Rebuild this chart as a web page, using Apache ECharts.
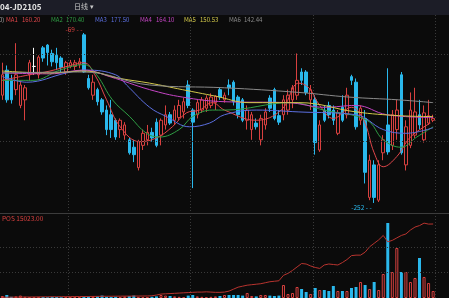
<!DOCTYPE html>
<html><head><meta charset="utf-8">
<script src="https://cdn.jsdelivr.net/npm/echarts@6/dist/echarts.min.js"></script>
<style>html,body{margin:0;padding:0;background:#0b0b0b;}#c{width:449px;height:298px;}</style>
</head><body><div id="c"></div>
<script>
// [open, close, lowest, highest]
const candles = [
[-136,-114,-141,-101],[-109,-141,-144,-104],[-120,-141,-145,-114],[-130,-114,-136,-80],[-147,-125,-150,-120],
[-141,-128,-163,-125],[-114,-101,-120,-98],[-105,-105,-114,-85],[-114,-95,-118,-93],[-85,-96,-100,-83],
[-82,-90,-104,-81],[-91,-100,-105,-87],[-93,-101,-109,-85],[-96,-106,-111,-94],[-111,-101,-114,-99],
[-105,-101,-107,-98],[-105,-101,-109,-98],[-103,-100,-107,-96],[-71,-111,-112,-69],[-118,-128,-130,-114],
[-136,-122,-141,-114],[-130,-143,-147,-128],[-141,-154,-157,-139],[-152,-173,-179,-147],[-157,-173,-182,-141],
[-163,-181,-184,-161],[-173,-163,-182,-161],[-179,-168,-184,-165],[-184,-198,-200,-182],[-192,-200,-208,-184],
[-214,-186,-217,-184],[-190,-177,-195,-173],[-184,-176,-190,-168],[-176,-182,-186,-171],[-165,-190,-192,-161],
[-179,-163,-190,-161],[-168,-157,-173,-147],[-157,-166,-168,-154],[-163,-152,-168,-147],[-160,-147,-163,-141],
[-154,-143,-161,-139],[-125,-147,-150,-120],[-152,-165,-236,-150],[-157,-144,-161,-141],[-152,-141,-155,-138],
[-150,-139,-154,-136],[-147,-138,-150,-134],[-144,-137,-152,-136],[-130,-138,-141,-128],[-141,-136,-144,-133],
[-125,-128,-136,-119],[-122,-143,-147,-120],[-138,-157,-161,-136],[-141,-163,-165,-139],[-163,-152,-173,-147],
[-173,-157,-184,-154],[-166,-170,-173,-161],[-184,-161,-190,-157],[-168,-154,-173,-150],[-139,-150,-154,-136],
[-130,-161,-163,-128],[-158,-165,-168,-152],[-157,-141,-163,-136],[-152,-136,-157,-130],[-141,-128,-150,-125],
[-136,-120,-141,-91],[-111,-120,-125,-107],[-111,-133,-136,-109],[-141,-130,-152,-125],[-141,-187,-200,-136],
[-195,-168,-197,-163],[-152,-163,-165,-147],[-147,-157,-161,-143],[-152,-163,-168,-147],[-177,-155,-179,-152],
[-149,-163,-165,-136],[-157,-136,-161,-128],[-116,-120,-125,-114],[-122,-170,-173,-118],[-163,-150,-168,-147],
[-161,-219,-231,-152],[-246,-206,-249,-200],[-211,-246,-252,-206],[-249,-211,-251,-206],[-198,-184,-206,-179],
[-168,-197,-200,-107],[-190,-157,-195,-152],[-173,-152,-184,-141],[-114,-198,-200,-111],[-211,-170,-217,-163],
[-190,-152,-193,-133],[-179,-154,-182,-128],[-157,-168,-173,-141],[-184,-155,-187,-147],[-166,-158,-168,-141],
[-163,-161,-165,-157]
];
const volumes = [
100,150,60,80,120,60,50,40,60,50, 40,60,50,40,60,50,40,50,60,80,
100,80,120,60,50,60,40,80,100,120, 60,50,40,60,80,150,120,100,80,60,
50,120,150,80,60,50,60,80,100,
150,150,150,150,120,250,100,80,150,150,120,100,120,650,200,250,550,450,300,200,
500,400,400,350,600,350,350,350,500,550,800,650,450,800,400,1200,3750,1300,2500,1300,
1300,800,1000,2000,1050,750,350
];
const positions = [
150,160,170,180,190,200,200,210,220,230, 240,250,250,260,270,280,290,300,300,310,
320,330,340,350,350,360,370,380,380,390, 400,400,410,
450,600,800,850,900,950,1000,1050,1100,1150,1200,1200,1250,1200,
1150,1150,1200,1400,1800,2200,2400,2600,2700,2800,2900,3100,3300,3400,3500,
4600,5000,5600,6300,7000,6900,6500,6200,6000,6700,6900,6800,6700,7200,7800,8600,8700,8700,
9300,10400,11100,11800,12700,11400,11700,12200,12700,13000,13800,14400,14700,15200,15000,15023
];
const ma1 = [[0,-120],[6,-114],[10.5,-110],[15,-104],[18,-101],[20.4,-114],[23,-141],[26,-170],[30.3,-186],[34,-182],[37.5,-170],[40.6,-155],[43.5,-152],[46.3,-144],[49,-152],[56,-163],[61.5,-152],[65.4,-123],[67.6,-128],[70,-147],[73,-161],[77,-149],[79.7,-163],[82,-198],[84,-213],[87,-202],[90,-181],[94.4,-166]];
const ma2 = [[0,-120],[6.8,-120],[12.7,-109],[18,-103],[20.8,-114],[24.3,-141],[28.1,-159],[31.8,-177],[34.7,-181],[39,-173],[42,-159],[46.3,-152],[49,-152],[63.7,-144],[70.9,-152],[80.4,-163],[84,-184],[87.9,-192],[91.4,-181],[95,-170]];
const ma3 = [[0,-116],[5.4,-122],[14.2,-112],[18.6,-109],[25,-114],[27.4,-125],[32.5,-149],[36.2,-159],[41.3,-170],[45.7,-166],[49,-157],[56,-152],[65.4,-154],[78,-157],[84,-173],[89,-177],[95,-171]];
const ma4 = [[0,-112],[10.5,-113],[18,-109],[23.7,-116],[32.5,-130],[39.7,-138],[49,-143],[63,-144],[71,-149],[78,-147],[84.8,-157],[95,-160]];
const ma5 = [[0,-110],[10.5,-112],[18,-110],[26,-118],[32.5,-123],[39.7,-130],[47,-137],[54.4,-144],[65.4,-144],[78,-154],[87.4,-158],[95,-159]];
const ma6 = [[0,-112],[18,-111],[32.5,-125],[49,-128],[65.4,-133],[76.4,-138],[87.4,-141],[95,-144]];
const maNames = ['MA1','MA2','MA3','MA4','MA5','MA6'];
const maValues = ['160.20','170.40','177.50','164.10','150.53','142.44'];
const maColors = ['#e0464a','#2f9e44','#5b6fe0','#c444c4','#d2c84a','#8a8a8a'];
const posLabel = 'POS 15023.00';
const categories = candles.map((_, i) => String(i + 1));

const UP = '#d8403f', DOWN = '#2ab8ec';
const FONT = '"Noto Sans CJK SC","Noto Sans",sans-serif';
const chart = echarts.init(document.getElementById('c'), null, {renderer:'canvas'});
const dot = {color:'#3a3a3a', type:[1,2], width:1};
const vGrid = [15, 42, 69, 96];
const maData = [ma1, ma2, ma3, ma4, ma5, ma6];
const legendX = [[6,22],[51,66],[95,111],[140,156],[184,200],[229,244]];

const graphic = [
  {type:'rect', left:0, top:0, shape:{width:449, height:15}, style:{fill:'#1c1d27'}, z:-1},
  {type:'text', left:0, top:3, style:{text:'04-JD2105', fill:'#e6e6e6', font:'bold 8px ' + FONT}},
  {type:'text', left:74, top:3, style:{text:'日线 ▾', fill:'#c8c8c8', font:'7px ' + FONT}},
  {type:'text', left:-1, top:17, style:{text:'0)', fill:'#aaaaaa', font:'6px ' + FONT}},
  {type:'text', left:2, top:215, style:{text:posLabel, fill:'#d8403f', font:'6.5px ' + FONT}},
  {type:'line', shape:{x1:0, y1:213.5, x2:449, y2:213.5}, style:{stroke:'#3c3c3c', lineWidth:1}}
];
maNames.forEach((n, k) => {
  graphic.push({type:'text', left:legendX[k][0], top:17, style:{text:n, fill:maColors[k], font:'6px ' + FONT}});
  graphic.push({type:'text', left:legendX[k][1], top:17, style:{text:maValues[k], fill:maColors[k], font:'6px ' + FONT}});
});

const series = [
  {
    type:'candlestick', xAxisIndex:0, yAxisIndex:0, data:candles, barWidth:3,
    itemStyle:{color:'transparent', color0:DOWN, borderColor:UP, borderColor0:DOWN, borderColorDoji:'#ffffff', borderWidth:1},
    markPoint:{
      symbol:'circle', symbolSize:1, itemStyle:{color:'rgba(0,0,0,0)'},
      label:{fontSize:6.5, fontFamily:FONT},
      data:[
        {type:'max', valueDim:'highest', label:{position:'left', distance:1, offset:[0,-3], color:UP, formatter:p => p.value + ' - -'}},
        {type:'min', valueDim:'lowest', label:{position:'left', distance:1, offset:[-1,5], color:DOWN, formatter:p => p.value + ' - -'}}
      ]
    },
    markLine:{silent:true, symbol:'none', label:{show:false}, lineStyle:dot, animation:false,
      data:[{yAxis:-91.6},{yAxis:-185.3}]}
  }
];
maData.forEach((d, k) => {
  series.push({type:'line', xAxisIndex:2, yAxisIndex:0, data:d, smooth:0.4, showSymbol:false, symbol:'none',
    lineStyle:{color:maColors[k], width:1}, z:3});
});
series.push({
  type:'bar', xAxisIndex:1, yAxisIndex:1, barWidth:3,
  data:volumes.map((v, i) => {
    const up = candles[i][1] >= candles[i][0];
    return {value:v, itemStyle: up ? {color:'transparent', borderColor:UP, borderWidth:1} : {color:DOWN}};
  }),
  markLine:{silent:true, symbol:'none', label:{show:false}, lineStyle:dot, animation:false,
    data:[{yAxis:1300},{yAxis:2550}]}
});
series.push({type:'line', xAxisIndex:1, yAxisIndex:2, data:positions, showSymbol:false, symbol:'none',
  lineStyle:{color:'#b8342f', width:1}, z:4});

chart.setOption({
  animation:false,
  backgroundColor:'#0b0b0b',
  graphic,
  grid:[
    {left:0, right:0, top:15, height:198},
    {left:0, right:0, top:213, height:85}
  ],
  xAxis:[
    {type:'category', gridIndex:0, data:categories, max:98, boundaryGap:true,
      axisLine:{show:false}, axisTick:{show:false}, axisLabel:{show:false},
      splitLine:{show:true, interval:(i) => vGrid.includes(i), lineStyle:dot}},
    {type:'category', gridIndex:1, data:categories, max:98, boundaryGap:true,
      axisLine:{show:false}, axisTick:{show:false}, axisLabel:{show:false},
      splitLine:{show:true, interval:(i) => vGrid.includes(i), lineStyle:dot}},
    {type:'value', gridIndex:0, min:-0.5, max:98.5, show:false}
  ],
  yAxis:[
    {type:'value', gridIndex:0, min:-262.8, max:-49.65, show:false, splitLine:{show:false}},
    {type:'value', gridIndex:1, min:0, max:4250, show:false, splitLine:{show:false}},
    {type:'value', gridIndex:1, min:0, max:17255, show:false, splitLine:{show:false}}
  ],
  series
});
</script></body></html>
